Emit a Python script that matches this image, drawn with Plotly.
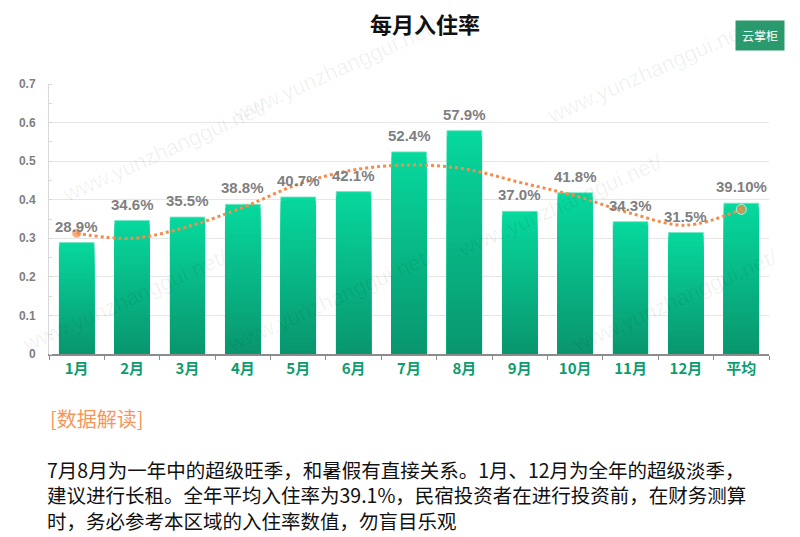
import plotly.graph_objects as go

# ---- data ----
categories = ["1月", "2月", "3月", "4月", "5月", "6月", "7月", "8月", "9月", "10月", "11月", "12月", "平均"]
occupancy = [0.289, 0.346, 0.355, 0.388, 0.407, 0.421, 0.524, 0.579, 0.370, 0.418, 0.343, 0.315, 0.391]
value_labels = ["28.9%", "34.6%", "35.5%", "38.8%", "40.7%", "42.1%", "52.4%", "57.9%",
                "37.0%", "41.8%", "34.3%", "31.5%", "39.10%"]
trend_values = [0.313, 0.300, 0.330, 0.380, 0.440, 0.477, 0.490, 0.480, 0.445, 0.410, 0.365, 0.334, 0.375]
y_ticks = [0, 0.1, 0.2, 0.3, 0.4, 0.5, 0.6, 0.7]
y_tick_text = ["0", "0.1", "0.2", "0.3", "0.4", "0.5", "0.6", "0.7"]

title_text = "每月入住率"
note_heading = "[数据解读]"
note_lines = [
    "7月8月为一年中的超级旺季，和暑假有直接关系。1月、12月为全年的超级淡季，",
    "建议进行长租。全年平均入住率为39.1%，民宿投资者在进行投资前，在财务测算",
    "时，务必参考本区域的入住率数值，勿盲目乐观",
]
watermark = "www.yunzhanggui.net/"

# ---- layout geometry (page shows the figure offset by the body margin) ----
W, H = 800, 537
OFF = 8
PLOT_L, PLOT_R, PLOT_T, PLOT_B = 49, 769, 84, 354  # target screen pixels
ML = PLOT_L - OFF
MT = PLOT_T - OFF
MR = W - (PLOT_R - OFF)
MB = H - (PLOT_B - OFF)
PW, PH = PLOT_R - PLOT_L, PLOT_B - PLOT_T


def px_x(px):
    return (px - PLOT_L) / PW


def px_y(py):
    return (PLOT_B - py) / PH


# ---- style ----
top_rgb = (7, 216, 157)
bottom_rgb = (9, 150, 110)
N = 40

fig = go.Figure()

# gradient bars: overlay progressively shorter bars with darker colours
for k in range(N):
    frac = 1 - k / N
    t = k / (N - 1)
    r = round(top_rgb[0] + (bottom_rgb[0] - top_rgb[0]) * t)
    g = round(top_rgb[1] + (bottom_rgb[1] - top_rgb[1]) * t)
    b = round(top_rgb[2] + (bottom_rgb[2] - top_rgb[2]) * t)
    fig.add_trace(go.Bar(
        x=categories, y=[v * frac for v in occupancy],
        marker=dict(color=f"rgb({r},{g},{b})",
                    line=dict(width=1 if k == 0 else 0, color="rgba(120,230,195,0.9)")),
        width=0.63, showlegend=False, hoverinfo="skip",
    ))

# trend line
sizes = [10] + [0] * (len(categories) - 2) + [10]
fig.add_trace(go.Scatter(
    x=categories, y=trend_values, mode="lines+markers",
    line=dict(color="#f58b4c", width=3, dash="dot", shape="spline", smoothing=1.0),
    marker=dict(size=sizes, color="#f58b4c"),
    showlegend=False, hoverinfo="skip",
))

annotations = []
# watermarks
wm_pos = [(335, 70), (650, 72), (560, 205), (165, 150), (330, 300), (675, 300), (125, 300)]
for (px, py) in wm_pos:
    annotations.append(dict(
        x=px_x(px), y=px_y(py), xref="paper", yref="paper",
        text=watermark, showarrow=False, textangle=-24,
        xanchor="center", yanchor="middle",
        font=dict(family="Liberation Sans, Arial", size=22, color="rgba(0,0,0,0.06)"),
    ))

# value labels
for cat, val, lab in zip(categories, occupancy, value_labels):
    annotations.append(dict(
        x=cat, y=val, xref="x", yref="y", text=lab, showarrow=False,
        xanchor="center", yanchor="bottom", yshift=6,
        font=dict(family="Liberation Sans, Arial", size=15, color="#7f7f7f", weight="bold"),
    ))

# logo
annotations.append(dict(
    x=px_x(760), y=px_y(36), xref="paper", yref="paper", text="云掌柜",
    showarrow=False, xanchor="center", yanchor="middle",
    font=dict(family="Noto Sans CJK SC", size=12, color="white"),
    bgcolor="#2a9a6e", borderpad=6,
))

# title
annotations.append(dict(
    x=px_x(425), y=px_y(23), xref="paper", yref="paper", text=f"<b>{title_text}</b>",
    showarrow=False, xanchor="center", yanchor="middle",
    font=dict(family="Noto Sans CJK SC", size=22, color="#111111"),
))

# note heading
annotations.append(dict(
    x=px_x(48), y=px_y(418), xref="paper", yref="paper", text=note_heading,
    showarrow=False, xanchor="left", yanchor="middle",
    font=dict(family="Noto Sans CJK SC", size=20, color="#f7965a"),
))
# note paragraph (one block, three lines)
annotations.append(dict(
    x=px_x(45), y=px_y(453), xref="paper", yref="paper", text="<br>".join(note_lines),
    showarrow=False, xanchor="left", yanchor="top", align="left",
    font=dict(family="Noto Sans CJK SC", size=19.5, color="#111111"),
))

fig.update_layout(
    width=W, height=H,
    margin=dict(l=ML, r=MR, t=MT, b=MB, autoexpand=False),
    paper_bgcolor="white", plot_bgcolor="white",
    barmode="overlay", bargap=0.37,
    annotations=annotations,
    xaxis=dict(
        type="category", range=[-0.5, len(categories) - 0.5],
        showline=True, linecolor="#8c8c8c", linewidth=1.5,
        ticks="outside", tickson="boundaries", ticklen=4, tickcolor="#8c8c8c",
        tickfont=dict(family="Noto Sans CJK SC", size=15, color="#0e9c6d", weight="bold"),
        showgrid=False,
    ),
    yaxis=dict(
        range=[0, 0.7], tickvals=y_ticks, ticktext=y_tick_text,
        showline=True, linecolor="#d9d9d9", linewidth=1,
        showgrid=True, gridcolor="#e6e6e6", gridwidth=1, zeroline=False,
        ticks="", ticklabelstandoff=10,
        tickfont=dict(family="Liberation Sans, Arial", size=12, color="#7f7f7f", weight="bold"),
        minor=dict(ticks="inside", ticklen=3, tickcolor="#d9d9d9", nticks=5),
    ),
)

fig.write_html("out.html")
